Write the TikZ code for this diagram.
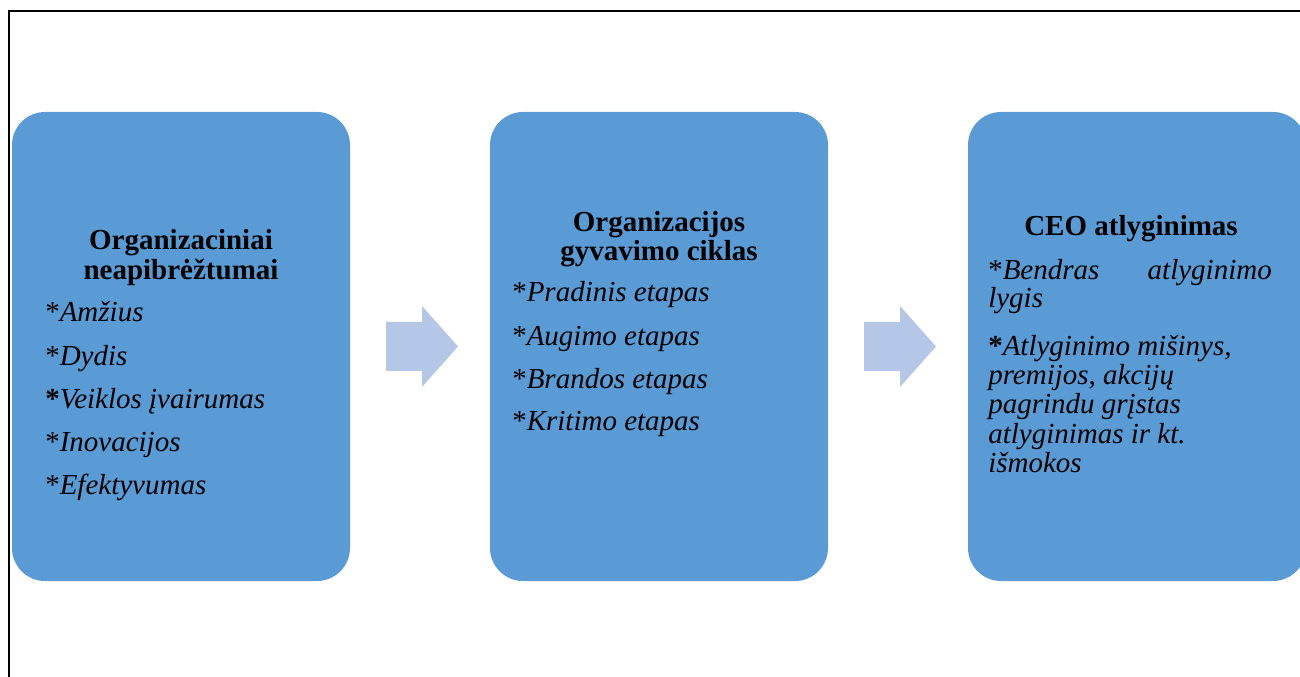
\documentclass[tikz,border=0pt]{standalone}
\usepackage{fontspec}
\setmainfont{Liberation Serif}
\usetikzlibrary{calc}

\definecolor{boxblue}{RGB}{91,155,213}
\definecolor{flowblue}{RGB}{180,199,231}

\tikzset{
  stage/.style={fill=boxblue, rounded corners=24.75pt, minimum width=253.5pt,
    minimum height=351.75pt, inner sep=0pt},
  flow/.style={fill=flowblue},
  head/.style={font=\fontsize{21.75}{26}\selectfont\bfseries, anchor=base, inner sep=0pt},
  item/.style={font=\fontsize{21.75}{26}\selectfont, anchor=base west, inner sep=0pt},
}

\begin{document}
\begin{tikzpicture}[x=0.75pt, y=-0.75pt]
  \useasboundingbox (0,0) rectangle (1300,677);
  \clip (0,0) rectangle (1300,677);
  % frame lines
  \draw[line width=1.5pt] (9,677) -- (9,11) -- (1300,11);
  % the three stages
  \node[stage] (org) at (181,346.5) {};
  \node[stage] (cycle) at (659,346.5) {};
  \node[stage] (ceo) at (1137,346.5) {};
  % block arrows between stages
  \foreach \a/\b in {org/cycle, cycle/ceo}
    \fill[flow] ($(\a.east)!0.5!(\b.west)$) ++(-34,-24.5) -- ++(36,0) -- ++(0,-16)
      -- ++(36,40.5) -- ++(-36,40.5) -- ++(0,-16) -- ++(-36,0) -- cycle;
  % uncertainties
  \node[head] (orgA) at (181,250) {Organizaciniai};
  \node[head] (orgB) at (181,280) {neapibrėžtumai};
  \foreach \s/\t [count=\i] in {*/Amžius, */Dydis, \textbf{*}/Veiklos įvairumas,
      */Inovacijos, */Efektyvumas}
    \node[item] (org\i) at (45,279+43*\i) {\s\textit{\t}};
  % life cycle
  \node[head] (cycleA) at (659,232) {Organizacijos};
  \node[head] (cycleB) at (659,261) {gyvavimo ciklas};
  \foreach \t [count=\i] in {Pradinis etapas, Augimo etapas, Brandos etapas, Kritimo etapas}
    \node[item] (cycle\i) at (512,259+43*\i) {*\textit{\t}};
  % pay
  \node[head] (ceoA) at (1131,236) {CEO atlyginimas};
  \node[item] (ceo1) at (988,280) {*\textit{Bendras}};
  \node[item, anchor=base east] (ceo2) at (1272,280) {\textit{atlyginimo}};
  \node[item] (ceo3) at (988,308) {\textit{lygis}};
  \node[item] (ceo4) at (988,355) {\textbf{*}\textit{Atlyginimo mišinys,}};
  \node[item] (ceo5) at (988,384) {\textit{premijos, akcijų}};
  \node[item] (ceo6) at (988,413) {\textit{pagrindu grįstas}};
  \node[item] (ceo7) at (988,443) {\textit{atlyginimas ir kt.}};
  \node[item] (ceo8) at (988,472) {\textit{išmokos}};
\end{tikzpicture}
\end{document}
